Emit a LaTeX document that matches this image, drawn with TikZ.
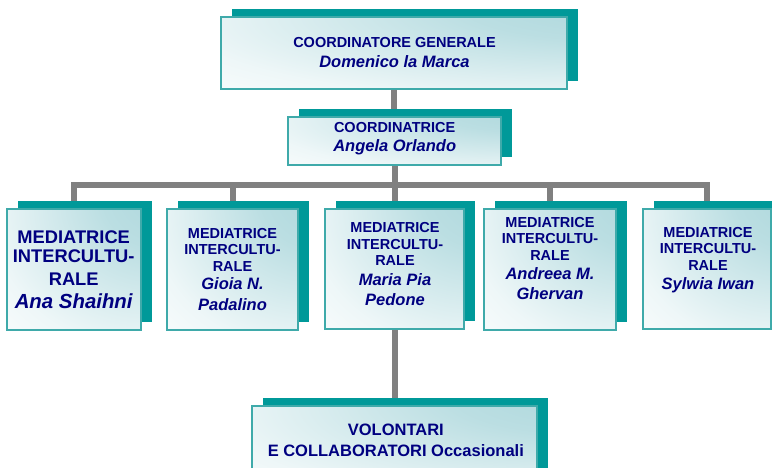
\documentclass[tikz,border=0pt]{standalone}
\usepackage{fontspec}
\setmainfont{Liberation Sans}
\usetikzlibrary{shadows,backgrounds}
\definecolor{shadowteal}{HTML}{009999}
\definecolor{edgeteal}{HTML}{3FAAAA}
\definecolor{paleteal}{HTML}{AAD6DB}
\definecolor{navy}{HTML}{000080}
\definecolor{linegray}{HTML}{808080}
\pgfdeclareradialshading{cardshade}{\pgfpoint{38bp}{36bp}}{%
  color(0bp)=(paleteal); color(22bp)=(paleteal!80!white);
  color(55bp)=(paleteal!20!white); color(75bp)=(white); color(150bp)=(white)}
\newcommand\nm[1]{{\fontsize{16.5}{19}\selectfont\itshape #1}}
\newcommand\nmbig[1]{{\fontsize{20.4}{22}\selectfont\itshape #1}}
\begin{document}
\begin{tikzpicture}[x=1pt,y=-1pt,
  card/.style={draw=edgeteal, line width=1.3pt, shading=cardshade, inner sep=0pt,
    general shadow={fill=shadowteal, shadow xshift=11pt, shadow yshift=8pt}},
  txt/.style={text=navy, font=\bfseries\fontsize{14.5}{16.7}\selectfont, align=center,
    anchor=base, inner sep=0pt},
  txtbig/.style={txt, font=\bfseries\fontsize{18.3}{19.6}\selectfont},
  txtbot/.style={txt, font=\bfseries\fontsize{16.5}{21}\selectfont},
  link/.style={draw=linegray, line width=6pt}]
\useasboundingbox (0,0) rectangle (772,467);
% boxes
\node[card, minimum width=346pt, minimum height=72pt] (top) at (394,53) {};
\node[card, minimum width=213pt, minimum height=48pt] (coord) at (394.5,141) {};
\node[card, minimum width=134pt, minimum height=121pt] (b1) at (74,269.5) {};
\node[card, minimum width=131pt, minimum height=121pt] (b2) at (232.5,269.5) {};
\node[card, minimum width=139pt, minimum height=120pt] (b3) at (394.5,269) {};
\node[card, minimum width=132pt, minimum height=121pt] (b4) at (550,269.5) {};
\node[card, minimum width=128pt, minimum height=120pt] (b5) at (707,269) {};
\node[card, minimum width=285pt, minimum height=84pt] (bot) at (394.5,448) {};
\coordinate (bar) at (394.5,185);
% texts (anchored at the baseline of the last line)
\node[txt] (ttop) at (394.5,67) {COORDINATORE GENERALE\\[3.3pt]\nm{Domenico la Marca}};
\node[txt] (tcoord) at (394.7,151.5) {COORDINATRICE\\[2.8pt]\nm{Angela Orlando}};
\node[txtbig] (t1) at (73.7,308.3) {MEDIATRICE\\INTERCULTU-\\[2.6pt]RALE\\[3.6pt]\nmbig{Ana Shaihni}};
\node[txt] (t2) at (232.5,310) {MEDIATRICE\\INTERCULTU-\\RALE\\[1.5pt]\nm{Gioia N.}\\[3.5pt]\nm{Padalino}};
\node[txt] (t3) at (395,305) {MEDIATRICE\\INTERCULTU-\\RALE\\[2.4pt]\nm{Maria Pia}\\[3.3pt]\nm{Pedone}};
\node[txt] (t4) at (550,299.3) {MEDIATRICE\\INTERCULTU-\\RALE\\[2.6pt]\nm{Andreea M.}\\[2.8pt]\nm{Ghervan}};
\node[txt] (t5) at (708,289.5) {MEDIATRICE\\INTERCULTU-\\RALE\\[2.3pt]\nm{Sylwia Iwan}};
\node[txtbot] (tbot) at (395.8,456) {VOLONTARI\\E COLLABORATORI Occasionali};
% connectors
\begin{pgfonlayer}{background}
\draw[link] (top.south) -- (top.south |- coord.north);
\draw[link] (coord.south) -- (b3.north);
\draw[link] (b1.north) -- (b1.north |- bar) -- (b5.north |- bar) -- (b5.north);
\draw[link] (b2.north) -- (b2.north |- bar);
\draw[link] (b4.north) -- (b4.north |- bar);
\draw[link] (b3.south) -- (bot.north);
\end{pgfonlayer}
\end{tikzpicture}
\end{document}
